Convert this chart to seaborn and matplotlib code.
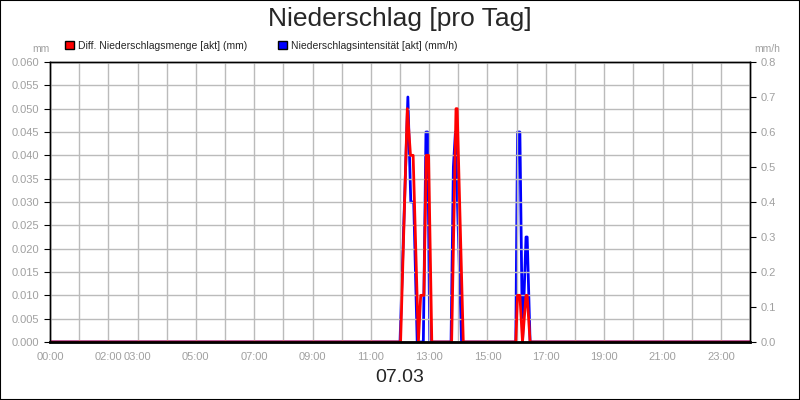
import matplotlib.pyplot as plt
import numpy as np
import pandas as pd
import seaborn as sns
from matplotlib.patches import Patch

# times in hours of day
menge_t = [0, 12.02, 12.25, 12.36, 12.45, 12.63, 12.71, 12.82, 12.90, 12.98, 13.09, 13.77, 13.92, 13.96, 14.17,
           15.97, 16.03, 16.11, 16.2, 16.32, 16.36, 16.46, 24]
menge_v = [0, 0, 0.05, 0.04, 0.04, 0, 0.01, 0.01, 0.04, 0.04, 0, 0, 0.05, 0.05, 0,
           0, 0.01, 0.01, 0, 0.01, 0.01, 0, 0]
int_t = [0, 12.0, 12.27, 12.37, 12.47, 12.59, 12.80, 12.89, 12.95, 13.02, 13.75, 13.83, 13.90, 14.11,
         15.97, 16.03, 16.11, 16.2, 16.32, 16.36, 16.46, 24]
int_v = [0, 0, 0.7, 0.4, 0.4, 0, 0, 0.6, 0.6, 0, 0, 0.5, 0.6, 0,
         0, 0.6, 0.6, 0, 0.3, 0.3, 0, 0]
tick_labels = {0: '00:00', 2: '02:00', 3: '03:00', 5: '05:00', 7: '07:00', 9: '09:00', 11: '11:00',
               13: '13:00', 15: '15:00', 17: '17:00', 19: '19:00', 21: '21:00', 23: '23:00'}

sns.set_style('white')
plt.rcParams['font.family'] = ['Liberation Sans', 'DejaVu Sans']
gray = '#a0a0a0'

fig = plt.figure(figsize=(8, 4), dpi=100)
fig.patches.append(plt.Rectangle((0, 0), 1, 1, transform=fig.transFigure, fill=False,
                                 edgecolor='black', linewidth=1.5))
ax = fig.add_axes([0.0625, 0.145, 0.875, 0.7])
ax2 = ax.twinx()

df_m = pd.DataFrame({'t': menge_t, 'v': menge_v})
df_i = pd.DataFrame({'t': int_t, 'v': int_v})
sns.lineplot(data=df_i, x='t', y='v', ax=ax2, color='#0000ff', linewidth=2)
sns.lineplot(data=df_m, x='t', y='v', ax=ax, color='#ff0000', linewidth=2)
ax.set_zorder(ax2.get_zorder() + 1)
ax.patch.set_visible(False)

ax.set_xlim(0, 24)
ax.set_ylim(0, 0.06)
ax2.set_ylim(0, 0.8)
ax.set_yticks(np.arange(0, 0.0601, 0.005))
ax.set_yticklabels([f'{v:.3f}' for v in np.arange(0, 0.0601, 0.005)])
ax2.set_yticks(np.arange(0, 0.81, 0.1))
ax2.set_yticklabels([f'{v:.1f}' for v in np.arange(0, 0.81, 0.1)])
ax.set_xticks(range(0, 24))
ax.set_xticklabels([tick_labels.get(h, '') for h in range(0, 24)])
ax.grid(True, color='#bbbbbb', linewidth=1)
for a in (ax, ax2):
    a.tick_params(colors=gray, labelsize=8, length=4, direction='out')
    a.tick_params(axis='both', color='black')
    a.set_xlabel('')
    a.set_ylabel('')
    for s in a.spines.values():
        s.set_color('black')
        s.set_linewidth(1)
ax.spines['bottom'].set_linewidth(2)

fig.text(0.5, 0.952, 'Niederschlag [pro Tag]', ha='center', va='center', fontsize=19)
fig.text(0.5, 0.055, '07.03', ha='center', va='center', fontsize=14)
fig.text(0.04, 0.877, 'mm', ha='left', va='center', fontsize=7.5, color=gray)
fig.text(0.943, 0.877, 'mm/h', ha='left', va='center', fontsize=7.5, color=gray)

handles = [Patch(facecolor='#ff0000', edgecolor='black', label='Diff. Niederschlagsmenge [akt] (mm)'),
           Patch(facecolor='#0000ff', edgecolor='black', label='Niederschlagsintensität [akt] (mm/h)')]
fig.legend(handles=handles, loc='center left', bbox_to_anchor=(0.07, 0.885), ncol=2, frameon=False,
           fontsize=7.5, handlelength=0.8, handleheight=0.8, handletextpad=0.4, columnspacing=3)

fig.savefig('out.png', dpi=100)
